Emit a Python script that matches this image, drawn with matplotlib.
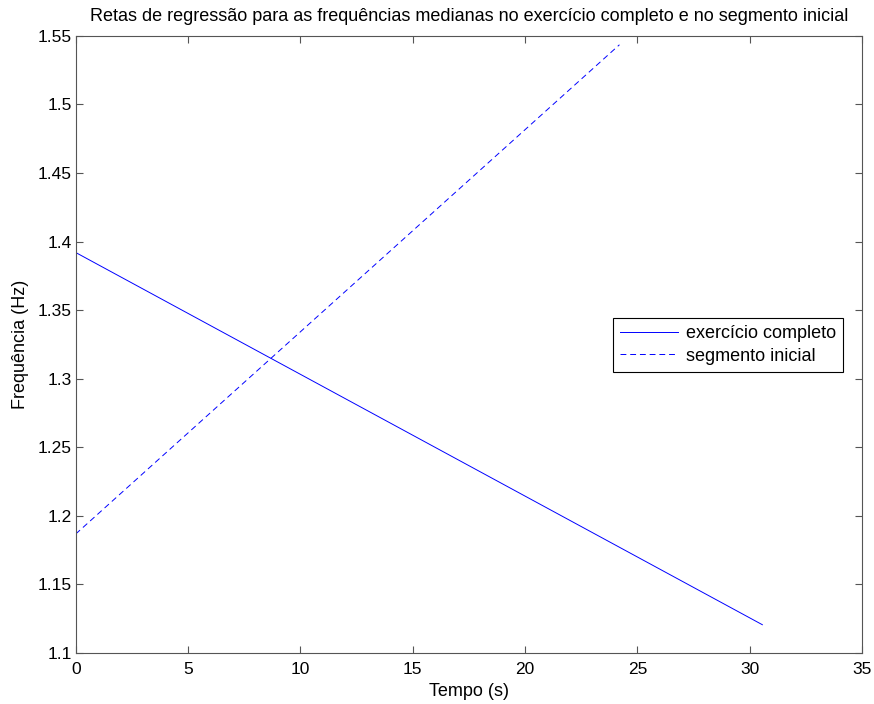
import matplotlib
matplotlib.use("Agg")
import matplotlib.pyplot as plt
import numpy as np

plt.rcParams['font.family'] = ['Liberation Sans', 'DejaVu Sans']

# regression lines (end points)
tempo_completo = [0.0, 30.56]
freq_completo = [1.392, 1.1204]
tempo_inicial = [0.0, 24.2]
freq_inicial = [1.1866, 1.5436]

xticks = [0, 5, 10, 15, 20, 25, 30, 35]
yticks = [1.1, 1.15, 1.2, 1.25, 1.3, 1.35, 1.4, 1.45, 1.5, 1.55]

fig = plt.figure(figsize=(8.74, 7.04), dpi=100)
ax = fig.add_axes([0.0866, 0.0729, 0.8998, 0.876])

ax.plot(tempo_completo, freq_completo, color="#0000ff", linewidth=0.7, label="exercício completo")
ax.plot(tempo_inicial, freq_inicial, color="#0000ff", linewidth=0.7, linestyle=(0, (6, 4)), label="segmento inicial")

ax.set_xlim(0, 35)
ax.set_ylim(1.1, 1.55)
ax.set_xticks(xticks)
ax.set_yticks(yticks)
ax.set_yticklabels([f"{v:g}" for v in yticks])
ax.tick_params(direction="in", top=True, right=True, labelsize=12.5, length=5, color="#555555", width=0.8)
ax.tick_params(axis="x", pad=7)
ax.tick_params(axis="y", pad=3)
for s in ax.spines.values():
    s.set_color("#555555")
    s.set_linewidth(0.8)

ax.set_title("Retas de regressão para as frequências medianas no exercício completo e no segmento inicial", fontsize=13, pad=11)
ax.set_xlabel("Tempo (s)", fontsize=13, labelpad=4)
ax.set_ylabel("Frequência (Hz)", fontsize=13, labelpad=6)

leg = ax.legend(loc="upper right", bbox_to_anchor=(0.976, 0.5427), borderaxespad=0, fontsize=13,
                fancybox=False, framealpha=1, edgecolor="black", handlelength=3.2, handletextpad=0.45,
                borderpad=0.4, labelspacing=0.3)
leg.get_frame().set_linewidth(0.8)

plt.savefig("out.png", dpi=100)
